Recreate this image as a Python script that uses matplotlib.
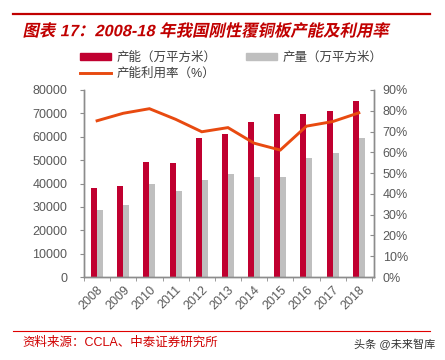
import matplotlib
matplotlib.use("Agg")
import matplotlib.pyplot as plt
import matplotlib.ticker as mticker
from matplotlib.lines import Line2D
from matplotlib.patches import Patch, PathPatch
from matplotlib.textpath import TextPath
from matplotlib.font_manager import FontProperties
from matplotlib.transforms import Affine2D
import numpy as np

plt.rcParams['font.family'] = ['Liberation Sans', 'Noto Sans CJK SC', 'DejaVu Sans']

years = ['2008', '2009', '2010', '2011', '2012', '2013', '2014', '2015', '2016', '2017', '2018']
capacity = [38100, 39100, 49400, 48600, 59600, 61100, 66400, 69900, 69900, 70900, 75100]
output = [28600, 31000, 40000, 36900, 41700, 44000, 42600, 42600, 50700, 53000, 59400]
utilization = [75.2, 78.8, 81.0, 75.9, 69.9, 71.9, 64.4, 61.1, 72.6, 74.8, 79.0]

RED = '#C00030'
GRAY = '#BFBFBF'
ORANGE = '#E84A10'
AX = '#8C8C8C'
TXT = '#595959'
DPI = 100
W, H = 445, 360

fig = plt.figure(figsize=(W / DPI, H / DPI), dpi=DPI)
ax = fig.add_axes([84/W, 1-277/H, (374-84)/W, (277-90)/H])

x = np.arange(len(years))
w = 0.23
ax.bar(x - w/2, capacity, width=w, color=RED)
ax.bar(x + w/2, output, width=w, color=GRAY)
ax.set_xlim(-0.5, 10.58)
ax.set_ylim(0, 80000)
ax.set_yticks(np.arange(0, 80001, 10000))

ax2 = ax.twinx()
ax2.plot(x, utilization, color=ORANGE, lw=2.1, solid_joinstyle='miter')
ax2.set_ylim(0, 90)
ax2.set_yticks(np.arange(0, 91, 10))
ax2.yaxis.set_major_formatter(mticker.FuncFormatter(lambda v, p: f'{int(v)}%'))

for a in (ax, ax2):
    a.spines['top'].set_visible(False)
    for s in ('left', 'right', 'bottom'):
        a.spines[s].set_color(AX)
        a.spines[s].set_linewidth(1.0)

ax.set_xticks(x)
ax.set_xticklabels(years, rotation=45, ha='right', rotation_mode='anchor', fontsize=9, color=TXT)
ax.tick_params(axis='x', which='major', length=0, pad=5)
ax.set_xticks(np.arange(-0.5, 11, 1.0), minor=True)
ax.tick_params(axis='x', which='minor', length=3, color=AX, direction='out')
ax.tick_params(axis='y', length=3, color=AX, direction='out', labelsize=9, labelcolor=TXT, pad=9)
ax2.tick_params(axis='y', length=3, color=AX, direction='in', labelsize=9, labelcolor=TXT, pad=6.3)

handles = [Patch(color=RED), Line2D([], [], color=ORANGE, lw=2.1), Patch(color=GRAY)]
labels = ['产能（万平方米）', '产能利用率（%）', '产量（万平方米）']
fig.legend(handles, labels, ncol=2, loc='upper left', bbox_to_anchor=(80/W, 1-52/H),
           frameon=False, fontsize=9, handlelength=2.48, handleheight=0.5,
           handletextpad=0.42, columnspacing=2.4, labelspacing=0.3, labelcolor='#404040',
           borderaxespad=0, borderpad=0)

# header line
fig.add_artist(Line2D([13/W, 430/W], [1-13.5/H, 1-13.5/H], color='#C00000', lw=1.6))

# italic (skewed) bold title
title = '图表 17：2008-18 年我国刚性覆铜板产能及利用率'
fp = FontProperties(family=['Liberation Sans', 'Noto Sans CJK SC'], weight='bold')
tp = TextPath((0, 0), title, prop=fp, size=11.8)
ext = tp.get_extents()
scale = DPI / 72.0
cy = H - 30
tr = (Affine2D().translate(-ext.x0, -(ext.y0 + ext.y1) / 2)
      .skew_deg(12, 0).scale(scale).translate(25, cy))
fig.add_artist(PathPatch(tp, transform=tr, color='#C00000', lw=0))

# footer
fig.add_artist(Line2D([13/W, 430/W], [1-330.5/H, 1-330.5/H], color='#E00000', lw=0.8))
fig.text(22/W, 1-343/H, '资料来源：CCLA、中泰证券研究所', color='#D00000', fontsize=9,
         va='center', ha='left')
fig.text(435/W, 1-344/H, '头条 @未来智库', color='#333333', fontsize=8,
         va='center', ha='right')

fig.savefig('out.png', dpi=DPI)
